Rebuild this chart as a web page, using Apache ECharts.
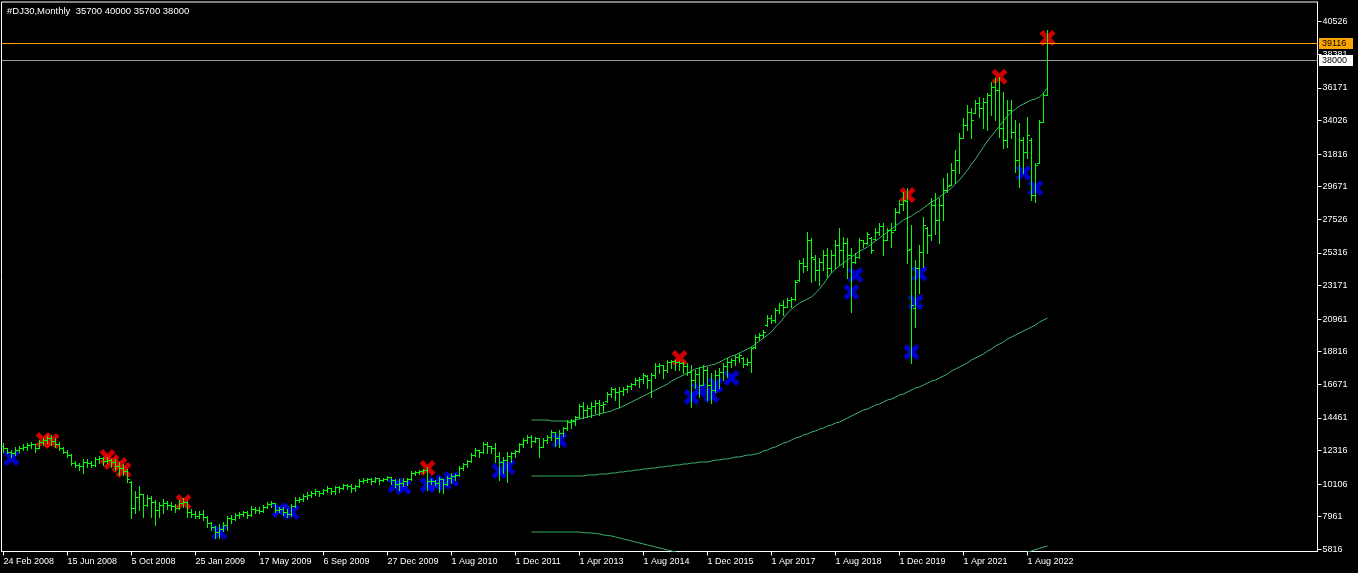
<!DOCTYPE html>
<html>
<head>
<meta charset="utf-8">
<script src="https://cdn.jsdelivr.net/npm/echarts@6/dist/echarts.min.js"></script>
<style>
html,body{margin:0;padding:0;background:#000;}
#chart{width:1358px;height:573px;}
</style>
</head>
<body>
<div id="chart"></div>
<script>
const titleText = '#DJ30,Monthly  35700 40000 35700 38000';
const dateLabels = ['24 Feb 2008','15 Jun 2008','5 Oct 2008','25 Jan 2009','17 May 2009','6 Sep 2009','27 Dec 2009','1 Aug 2010','1 Dec 2011','1 Apr 2013','1 Aug 2014','1 Dec 2015','1 Apr 2017','1 Aug 2018','1 Dec 2019','1 Apr 2021','1 Aug 2022'];
const yTickValues = [5816,7961,10106,12316,14461,16671,18816,20961,23171,25316,27526,29671,31816,34026,36171,38381,40526];
const levelLines = [39116, 38000];

const opens = [
12611,12480,12216,12151,12348,12480,12545,12677,12743,12480,
12874,13006,13138,12940,12743,12480,12216,12019,11494,11362,
11296,11559,11494,11362,11757,11822,11625,11691,11559,11296,
11164,10967,10243,8532,9256,9454,8730,9190,8927,8401,
8730,8862,8730,8664,8532,8862,8927,8270,8138,8006,
8138,7940,7546,7283,6954,7151,7414,7875,7809,8072,
8138,8270,8072,8467,8401,8335,8598,8796,8862,8401,
8467,8270,8138,8664,9059,9125,9322,9388,9520,9651,
9520,9717,9849,9651,9914,9849,10046,9980,9849,9980,
10309,10375,10441,10309,10507,10375,10441,10572,10375,10112,
10177,10309,10441,10836,10901,10967,11033,10309,10309,10177,
10441,10112,10507,10638,10704,11164,11428,11625,12019,12348,
12216,12743,12611,12480,11954,11559,11691,11954,12151,12282,
12743,13006,13203,12940,13138,12545,13006,13203,13532,13138,
13467,13795,14190,14256,14519,15243,14980,15112,15243,15441,
15309,15572,16033,16362,16164,16230,16362,16559,16691,16954,
17020,17217,16954,17283,17875,17941,17612,18138,18204,18138,
18072,17875,17480,16954,17349,16625,17612,16625,16296,17283,
17480,17875,18138,18270,18467,18401,18006,18138,19124,19782,
19914,20572,21033,20901,21559,21888,21757,22217,22283,23533,
24651,24454,26164,24914,24191,24717,25177,24322,25177,25835,
25506,25967,25177,24717,25046,26164,25967,26296,26230,26691,
27085,26164,26822,26822,28006,28533,28730,25572,21691,24322,
25375,26954,26493,28467,27480,28467,29454,29783,30770,31428,
32875,33730,34585,34520,35178,34849,35243,35704,36230,36033,
33533,32743,34717,33270,31428,32743,31954,32743,29125,31230,
33927,35700];

const highs = [
12809,12480,12348,12545,12611,12743,12809,12874,12743,13006,
13138,13269,13335,13138,12874,12545,12348,12085,11625,11494,
11757,11757,11625,11888,11954,11888,11888,11757,11757,11559,
11428,11099,10309,9651,9980,9454,9388,9322,9059,8927,
9125,8993,8927,8796,9059,9190,8993,8467,8335,8335,
8401,8006,7612,7348,7480,7612,8006,8072,8204,8270,
8335,8335,8664,8598,8598,8730,8927,8993,8862,8598,
8598,8467,8796,9256,9256,9454,9585,9651,9783,9651,
9783,9980,9849,9980,9980,10112,10112,10112,10046,10441,
10507,10507,10507,10572,10507,10507,10638,10572,10441,10441,
10507,10507,10967,10967,11033,11099,11230,10441,10375,10572,
10441,10638,10836,10770,11296,11494,11691,12151,12480,12348,
12874,12874,12611,12809,12216,11888,12216,12216,12348,12809,
13138,13335,13335,13203,13138,13138,13335,13664,13532,13664,
13861,14322,14388,14585,15375,15506,15309,15506,15638,15638,
15506,16164,16493,16428,16493,16493,16625,16757,17086,17151,
17414,17283,17414,18072,18072,17941,18270,18270,18270,18204,
18138,18072,17941,17612,17809,17941,17809,17414,17612,17743,
18072,18401,18401,18598,18730,18467,18401,19124,19914,20046,
20243,21230,21230,21691,22020,22217,22348,22414,23533,24849,
24980,26691,26296,25177,24980,25506,25638,25506,26164,26954,
26362,26296,25638,25309,26296,26164,26691,26362,26954,27283,
27283,26954,27283,28270,28796,29322,29585,27151,24849,25835,
27678,27020,28927,29256,28927,30243,30572,31230,32086,33204,
34191,35046,34849,35375,35572,35506,35835,36559,36822,36888,
35902,35375,35375,34059,33862,32940,34256,32875,31230,34059,
35835,40000];

const lows = [
12216,12151,11888,12019,12216,12348,12348,12480,12216,12480,
12677,12809,12677,12545,12348,12151,11888,11362,11230,11033,
10836,11230,11230,11296,11494,11362,11494,11230,11033,10704,
10704,10243,7875,8204,8401,7940,8664,7940,7414,7940,
8204,8467,8401,8270,8467,8598,7940,7940,7875,7875,
7743,7283,7085,6559,6559,7019,7085,7546,7743,7875,
8006,7875,8006,8204,8204,8270,8532,8598,8270,8270,
8072,7940,8006,8598,8927,8993,9125,9256,9388,9322,
9454,9585,9454,9454,9585,9783,9783,9585,9651,9914,
10177,10243,10112,10243,10112,10309,10375,10112,9914,9717,
9980,10046,10375,10704,10770,10836,9717,10112,10046,9585,
9520,10046,10177,10375,10638,11033,11230,11559,11954,11888,
12151,12151,12151,11559,10375,10836,10243,11559,11888,12216,
12545,12809,12545,12874,11888,12545,12809,13006,12611,12545,
13269,13664,13795,13993,14454,14454,14519,14519,14783,14651,
14849,15506,15835,15638,15177,15967,16164,16362,16625,16493,
16757,16428,15835,17086,17414,17086,17480,17743,17612,17612,
17414,17283,15177,16428,15835,16625,15638,15441,16164,16428,
16954,17151,17809,17941,18138,17809,17941,17480,19059,19585,
19782,20506,20704,20770,21362,21230,21757,21757,22217,23467,
24059,24191,23401,23533,23204,24191,23730,24059,24322,24520,
24388,23664,21428,24651,24980,25703,25901,25309,26164,26493,
25177,26164,25703,26822,27941,28138,24651,18072,20440,22678,
24388,25309,26164,26559,25967,27480,29322,29783,29914,30572,
32875,33401,32875,34520,34256,33533,33401,34388,34059,32940,
32217,32283,32875,30638,29651,30572,31559,28796,28664,31230,
33927,35700];

const closes = [
12480,12216,12151,12348,12480,12545,12677,12743,12480,12874,
13006,13138,12940,12743,12480,12216,12019,11494,11362,11296,
11559,11494,11362,11757,11822,11625,11691,11559,11296,11164,
10967,10441,8532,9256,9454,8730,9190,8927,8401,8730,
8862,8730,8664,8532,8862,8927,8270,8138,8006,8138,
7940,7546,7283,6954,7151,7414,7875,7809,8072,8138,
8270,8072,8467,8401,8335,8598,8796,8862,8401,8467,
8270,8138,8664,9059,9125,9322,9388,9520,9651,9520,
9717,9849,9651,9914,9849,10046,9980,9849,9980,10309,
10375,10441,10309,10507,10375,10441,10572,10375,10112,10177,
10309,10441,10836,10901,10967,11033,10309,10309,10177,10441,
10112,10507,10638,10704,11164,11428,11625,12019,12348,12216,
12743,12611,12480,11954,11559,11691,11954,12151,12282,12743,
13006,13203,12940,13138,12545,13006,13203,13532,13138,13467,
13795,14190,14256,14519,15243,14980,15112,15243,15441,15309,
15375,16033,16362,16164,16230,16362,16559,16691,16954,17020,
17283,16954,17283,17875,17941,17612,18138,18204,18138,18072,
17875,17480,16954,17349,16625,17612,16625,16296,17283,17480,
17875,18138,18270,18467,18598,18006,18138,19059,19782,19914,
20111,21033,20901,21559,21888,21757,22217,22283,23401,24651,
24454,26164,25046,24191,24717,25177,24322,25177,25835,25506,
25967,25177,24717,25046,26164,25967,26559,25506,26691,27085,
26164,26822,26691,28006,28533,28796,25506,21888,24322,25375,
27151,26493,28467,27480,28467,29454,29717,30770,31428,32875,
33730,34585,34059,35178,34849,35243,35704,36230,36033,33533,
32743,34717,33270,31428,32743,31954,33072,29125,31099,33927,
35704,38000];

const fastMaStart = 132;
const fastMa = [
14322,14322,14322,14322,14322,14256,14256,14256,14256,14256,14256,14322,
14388,14454,14519,14585,14651,14717,14783,14849,14914,15046,
15112,15243,15375,15506,15638,15770,15901,16033,16164,16296,
16428,16559,16691,16888,17020,17151,17283,17414,17546,17678,
17743,17809,17875,17941,18006,18138,18270,18401,18533,18598,
18730,18862,18993,19124,19322,19519,19717,19914,20111,20440,
20704,21033,21362,21625,21822,22020,22151,22283,22414,22678,
22941,23270,23664,23993,24257,24454,24651,24849,25046,25243,
25441,25572,25703,25901,26099,26296,26493,26691,26888,27085,
27283,27480,27612,27743,27941,28072,28270,28467,28664,28796,
28993,29191,29388,29586,29849,30112,30441,30770,31164,31493,
31888,32283,32678,33007,33335,33664,33993,34322,34585,34783,
34980,35112,35243,35375,35441,35572,35835,36165];

const slowMaStart = 132;
const slowMa = [
10638,10638,10638,10638,10638,10638,10638,10638,10638,10638,
10638,10638,10638,10638,10704,10704,10704,10770,10770,10770,
10836,10836,10901,10901,10967,10967,11033,11033,11099,11099,
11164,11164,11230,11230,11296,11296,11362,11362,11428,11428,
11494,11494,11559,11559,11559,11625,11691,11691,11757,11757,
11822,11888,11888,11954,12019,12019,12085,12151,12282,12348,
12480,12545,12677,12809,12874,13006,13138,13203,13335,13401,
13532,13598,13730,13795,13927,13993,14124,14190,14322,14454,
14585,14717,14849,14980,15046,15177,15309,15375,15506,15638,
15704,15835,15967,16033,16164,16296,16428,16493,16625,16757,
16888,16954,17086,17217,17349,17546,17678,17809,17941,18072,
18270,18401,18533,18664,18862,18993,19191,19322,19454,19651,
19782,19914,20046,20177,20309,20440,20572,20769,20901,21033];

const lowerLineStartA = 132;
const lowerLineA = [
6954,6954,6954,6954,6954,6954,6954,6954,6954,6954,6954,6954,6954,
6921,6888,6888,6855,6822,6756,6723,6690,6625,6559,6493,6427,6361,
6296,6230,6164,6098,6032,5967,5901,5835,5769,5703,5638,5572,5506];
const lowerLineStartB = 254;
const lowerLineB = [5375,5506,5638,5703,5802,5868,5967,6032];

const redMarks = [[10,13006],[12,12940],[26,11888],[27,11559],[29,11362],[30,11033],[45,8927],[106,11164],[169,18401],[226,29125],[249,36908],[261,39460]];
const blueMarks = [[2,11822],[54,6954],[69,8401],[72,8270],[98,10046],[100,9914],[106,10046],[108,10112],[110,10243],[112,10441],[124,10967],[126,11230],[139,13006],[172,15835],[174,16296],[177,15967],[178,16625],[182,17086],[212,22743],[213,23862],[227,18796],[228,22086],[229,23967],[255,30572],[258,29585]];

const slotCount = 329;
const labelStep = 16;
const FONT = '"Liberation Sans", Arial, sans-serif';
const X_PATH = 'path://M0,3.5L3.5,0L8,4.5L12.5,0L16,3.5L11.5,8L16,12.5L12.5,16L8,11.5L3.5,16L0,12.5L4.5,8Z';
const levelLineColors = ['#ffa500', '#9a9a9a'];
const levelBoxColors = ['#ffa500', '#ffffff'];

const categories = Array.from({length: slotCount}, (_, i) => String(i));
const ohlcData = opens.map((o, i) => [i, o, highs[i], lows[i], closes[i]]);
const levelData = levelLines.map((v) => [0, v]);
const toPairs = (start, vals) => vals.map((v, k) => [start + k, v]);
const showLabel = (idx) => idx % labelStep === 0 && idx / labelStep < dateLabels.length;

function renderOHLC(params, api) {
  const i = api.value(0);
  const pO = api.coord([i, api.value(1)]);
  const pH = api.coord([i, api.value(2)]);
  const pL = api.coord([i, api.value(3)]);
  const pC = api.coord([i, api.value(4)]);
  const n = Math.floor(pO[0]);
  const x = n + 0.5;
  const yo = Math.round(pO[1]) + 0.5;
  const yc = Math.round(pC[1]) + 0.5;
  const st = {stroke: '#00ff00', lineWidth: 1};
  return {
    type: 'group',
    children: [
      {type: 'line', shape: {x1: x, y1: Math.round(pH[1]), x2: x, y2: Math.round(pL[1]) + 1}, style: st},
      {type: 'line', shape: {x1: n - 2, y1: yo, x2: n, y2: yo}, style: st},
      {type: 'line', shape: {x1: n + 1, y1: yc, x2: n + 3, y2: yc}, style: st}
    ]
  };
}

function renderLevel(params, api) {
  const cs = params.coordSys;
  const v = api.value(1);
  const y0 = Math.round(api.coord([0, v])[1]);
  const k = params.dataIndex;
  const left = Math.round(cs.x);
  const right = Math.round(cs.x + cs.width);
  return {
    type: 'group',
    children: [
      {type: 'rect', shape: {x: left, y: y0, width: right - left, height: 1}, style: {fill: levelLineColors[k], stroke: null}},
      {type: 'rect', shape: {x: right + 1, y: y0 - 5, width: 34, height: 11}, style: {fill: levelBoxColors[k], stroke: null}},
      {type: 'text', style: {text: String(v), x: right + 4, y: y0 + 0.5, fill: '#000', font: '9px "Liberation Sans", Arial, sans-serif', align: 'left', verticalAlign: 'middle'}}
    ]
  };
}

const chart = echarts.init(document.getElementById('chart'), null, {renderer: 'canvas'});
chart.setOption({
  backgroundColor: '#000',
  animation: false,
  textStyle: {fontFamily: FONT},
  title: {
    text: titleText, left: 7, top: 6, padding: 0,
    textStyle: {color: '#ffffff', fontSize: 9.5, fontWeight: 'normal', fontFamily: FONT}
  },
  grid: {
    left: 1.5, top: 2, width: 1316, height: 549.5,
    show: true, borderColor: '#ffffff', borderWidth: 1, backgroundColor: '#000',
    containLabel: false, outerBoundsMode: 'none'
  },
  xAxis: {
    type: 'category', data: categories, boundaryGap: true,
    axisLine: {show: true, lineStyle: {color: '#ffffff', width: 1}},
    axisTick: {show: true, alignWithLabel: true, length: 4, interval: (idx) => showLabel(idx), lineStyle: {color: '#ffffff'}},
    axisLabel: {
      show: true, interval: (idx) => showLabel(idx),
      formatter: (val, idx) => dateLabels[Math.round(idx / labelStep)] || '',
      color: '#ffffff', fontSize: 9, fontFamily: FONT, align: 'left', margin: 6
    },
    splitLine: {show: false}
  },
  yAxis: {
    type: 'value', position: 'right', min: 5670, max: 41822, scale: true,
    axisLine: {show: true, lineStyle: {color: '#ffffff', width: 1}},
    axisTick: {show: true, length: 4, customValues: yTickValues, lineStyle: {color: '#ffffff'}},
    axisLabel: {
      show: true, customValues: yTickValues, formatter: (v) => String(v),
      color: '#ffffff', fontSize: 9, fontFamily: FONT, margin: 5, align: 'left'
    },
    splitLine: {show: false}
  },
  series: [
    {
      type: 'scatter', name: 'blue', data: blueMarks, symbol: X_PATH, symbolSize: 16,
      itemStyle: {color: '#0000ff'}, z: 1, silent: true
    },
    {
      type: 'scatter', name: 'red', data: redMarks, symbol: X_PATH, symbolSize: 16,
      itemStyle: {color: '#ff0000'}, z: 1, silent: true
    },
    {
      type: 'line', name: 'fast', data: toPairs(fastMaStart, fastMa), showSymbol: false, symbol: 'none',
      lineStyle: {color: '#3cb371', width: 1}, itemStyle: {color: '#3cb371'}, z: 2, clip: true, silent: true
    },
    {
      type: 'line', name: 'slow', data: toPairs(slowMaStart, slowMa), showSymbol: false, symbol: 'none',
      lineStyle: {color: '#3cb371', width: 1}, itemStyle: {color: '#3cb371'}, z: 2, clip: true, silent: true
    },
    {
      type: 'line', name: 'lowerA', data: toPairs(lowerLineStartA, lowerLineA), showSymbol: false, symbol: 'none',
      lineStyle: {color: '#3cb371', width: 1}, z: 2, clip: true, silent: true
    },
    {
      type: 'line', name: 'lowerB', data: toPairs(lowerLineStartB, lowerLineB), showSymbol: false, symbol: 'none',
      lineStyle: {color: '#3cb371', width: 1}, z: 2, clip: true, silent: true
    },
    {
      type: 'custom', name: 'ohlc', data: ohlcData, renderItem: renderOHLC,
      encode: {x: 0, y: [1, 2, 3, 4]}, z: 3, clip: true, silent: true
    },
    {
      type: 'custom', name: 'levels', data: levelData, renderItem: renderLevel,
      encode: {x: 0, y: 1}, z: 4, clip: false, silent: true
    }
  ]
});
</script>
</body>
</html>
